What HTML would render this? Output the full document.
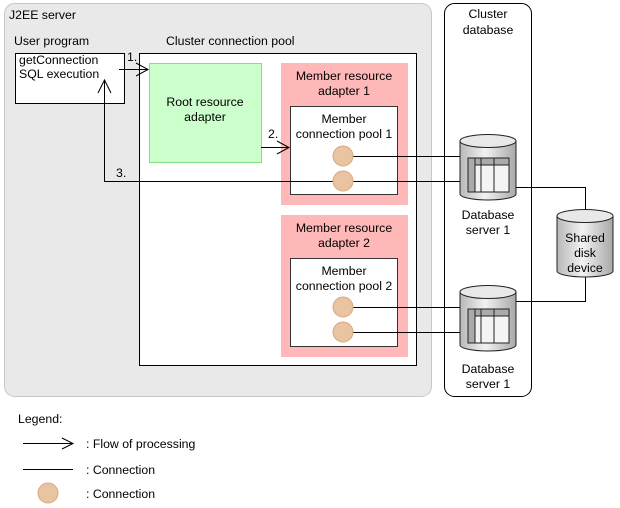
<!DOCTYPE html>
<html><head><meta charset="utf-8"><style>
html,body{margin:0;padding:0;background:#fff;}
svg{display:block;font-family:"Liberation Sans",sans-serif;font-size:12.3px;}
</style></head><body>
<svg width="620" height="508" viewBox="0 0 620 508">
<defs>
<linearGradient id="cg" x1="0" x2="1" y1="0" y2="0">
<stop offset="0" stop-color="#b8b8b8"/><stop offset="0.45" stop-color="#f2f2f2"/><stop offset="1" stop-color="#a8a8a8"/>
</linearGradient>
<g id="db">
<path d="M0,7 L0,60 A28,6 0 0 0 56,60 L56,7" fill="url(#cg)" stroke="#222"/>
<ellipse cx="28" cy="7" rx="28" ry="6.5" fill="#e8e8e8" stroke="#222"/>
<rect x="8" y="24" width="41" height="34" fill="#f4f4f4" stroke="#222"/>
<rect x="8" y="24" width="41" height="7" fill="#aaa" stroke="#222"/>
<rect x="8" y="24" width="7" height="34" fill="#aaa" stroke="#222"/>
<line x1="21" y1="24" x2="21" y2="58" stroke="#222"/>
<line x1="34" y1="24" x2="34" y2="58" stroke="#222"/>
</g>
</defs>
<rect x="4.5" y="3.5" width="427" height="393" rx="10" fill="#e9e9e9" stroke="#c8c8c8"/>
<rect x="444.5" y="3.5" width="87" height="393" rx="10" fill="#fff" stroke="#000"/>
<text x="9" y="19">J2EE server</text>
<text x="488" y="18" text-anchor="middle">Cluster</text>
<text x="488" y="34" text-anchor="middle">database</text>
<text x="14" y="45">User program</text>
<text x="166" y="45">Cluster connection pool</text>
<rect x="15.5" y="53.5" width="109" height="50" fill="#fff" stroke="#000"/>
<text x="19" y="64">getConnection</text>
<text x="19" y="78">SQL execution</text>
<rect x="139.5" y="53.5" width="277" height="312" fill="#fff" stroke="#000"/>
<rect x="149.5" y="63.5" width="112" height="99" fill="#ccffcc" stroke="#88dd88"/>
<text x="205" y="106" text-anchor="middle">Root resource</text>
<text x="205" y="121" text-anchor="middle">adapter</text>
<rect x="281" y="63" width="127" height="142" fill="#ffb8b8"/>
<text x="344" y="80" text-anchor="middle">Member resource</text>
<text x="344" y="95" text-anchor="middle">adapter 1</text>
<rect x="290.5" y="106.5" width="107" height="88" fill="#fff" stroke="#333"/>
<text x="344" y="123" text-anchor="middle">Member</text>
<text x="344" y="138" text-anchor="middle">connection pool 1</text>
<rect x="281" y="215" width="127" height="142" fill="#ffb8b8"/>
<text x="344" y="232" text-anchor="middle">Member resource</text>
<text x="344" y="247" text-anchor="middle">adapter 2</text>
<rect x="290.5" y="258.5" width="107" height="88" fill="#fff" stroke="#333"/>
<text x="344" y="275" text-anchor="middle">Member</text>
<text x="344" y="290" text-anchor="middle">connection pool 2</text>
<g stroke="#000" fill="none">
<line x1="343" y1="156.5" x2="461" y2="156.5"/>
<polyline points="461,181.5 104.5,181.5 104.5,80"/>
<polyline points="98,93 104.5,80 111,93"/>
<line x1="343" y1="307.5" x2="461" y2="307.5"/>
<line x1="343" y1="332.5" x2="461" y2="332.5"/>
<polyline points="516,187.5 585.5,187.5 585.5,212"/>
<polyline points="516,301.5 585.5,301.5 585.5,276"/>
<line x1="119" y1="69.5" x2="148" y2="69.5"/>
<polyline points="136,63 148,69.5 136,76"/>
<line x1="261" y1="147.5" x2="289" y2="147.5"/>
<polyline points="277,141 289,147.5 277,154"/>
</g>
<text x="127" y="61">1.</text>
<text x="268" y="138">2.</text>
<text x="116" y="177">3.</text>
<g fill="#e8c4a0" stroke="#d8a880">
<circle cx="343" cy="156" r="10"/><circle cx="343" cy="181" r="10"/>
<circle cx="343" cy="307" r="10"/><circle cx="343" cy="332" r="10"/>
</g>
<use href="#db" x="460" y="134"/>
<use href="#db" x="460" y="285"/>
<text x="488" y="219" text-anchor="middle">Database</text>
<text x="488" y="234" text-anchor="middle">server 1</text>
<text x="488" y="373" text-anchor="middle">Database</text>
<text x="488" y="388" text-anchor="middle">server 1</text>
<path d="M557,216 L557,271 A28,6 0 0 0 613,271 L613,216" fill="url(#cg)" stroke="#222"/>
<ellipse cx="585" cy="216" rx="28" ry="6.5" fill="#e8e8e8" stroke="#222"/>
<text x="585" y="242" text-anchor="middle">Shared</text>
<text x="585" y="257" text-anchor="middle">disk</text>
<text x="585" y="272" text-anchor="middle">device</text>
<text x="18" y="423">Legend:</text>
<g stroke="#000" fill="none">
<line x1="23" y1="443.5" x2="73" y2="443.5"/>
<polyline points="62,438 73,443.5 62,449"/>
<line x1="23" y1="469.5" x2="73" y2="469.5"/>
</g>
<text x="86" y="448">: Flow of processing</text>
<text x="86" y="474">: Connection</text>
<circle cx="48" cy="493" r="10" fill="#e8c4a0" stroke="#d8a880"/>
<text x="86" y="498">: Connection</text>
</svg>
</body></html>
